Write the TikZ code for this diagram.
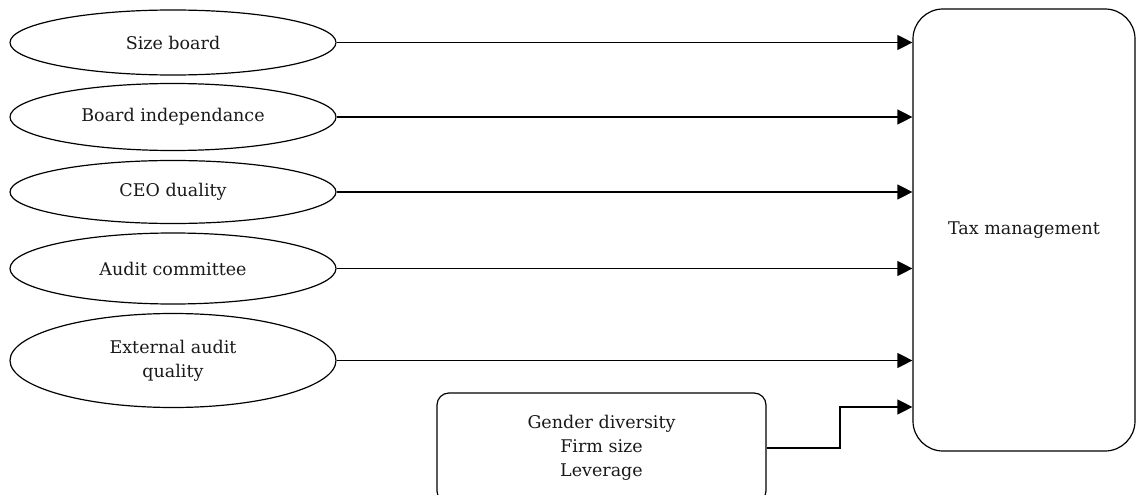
\documentclass[tikz,border=0pt]{standalone}
\usepackage{fontspec}
\setmainfont{DejaVu Serif}
\usetikzlibrary{shapes.geometric,arrows.meta}
\begin{document}
\begin{tikzpicture}[x=1pt,y=-1pt,
  txt/.style={font=\fontsize{17.5}{24}\selectfont, align=center, text=black!90},
  factor/.style={txt, draw, ellipse, minimum width=326pt, minimum height=65pt, inner sep=0pt, line width=1.2pt},
  boxnode/.style={txt, draw, line width=1.2pt, inner sep=0pt},
  arr/.style={line width=1.2pt, -{Triangle[length=15pt,width=15pt]}}]
\useasboundingbox (0,0) rectangle (1136,495);
\clip (0,0) rectangle (1136,495);
\node[factor] (e1) at (173,42.5) {Size board};
\node[factor, minimum height=67pt] (e2) at (173,117) {Board independance};
\node[factor, minimum height=63pt] (e3) at (173,192) {CEO duality};
\node[factor, minimum height=71pt] (e4) at (173,268.5) {Audit committee};
\node[factor, minimum height=94pt] (e5) at (173,360.5) {External audit\\quality};
\node[boxnode, rounded corners=30pt, minimum width=222pt, minimum height=442pt] (tax) at (1024,230) {Tax management};
\node[boxnode, rounded corners=12pt, minimum width=329pt, minimum height=110pt] (ctl) at (601.5,448) {Gender diversity\\Firm size\\Leverage};
\foreach \i in {1,...,5} {
  \draw[arr] (e\i.east) -- (e\i.east -| tax.west);
}
\coordinate (k1) at (840,448);
\coordinate (k2) at (840,407);
\draw[arr] (ctl.east) -- (k1) -- (k2) -- (k2 -| tax.west);
\end{tikzpicture}
\end{document}
